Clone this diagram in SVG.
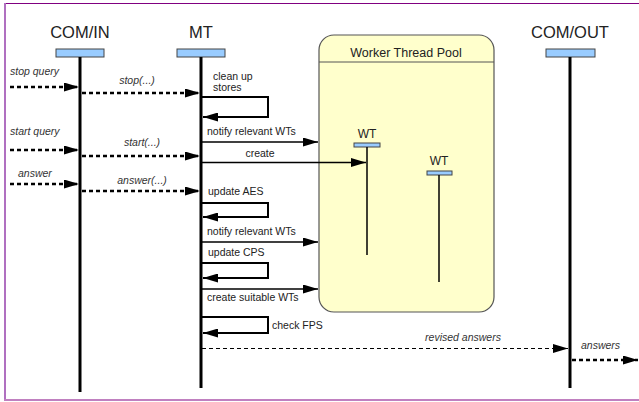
<svg xmlns="http://www.w3.org/2000/svg" width="639" height="402" viewBox="0 0 639 402">
<defs>
<marker id="ah" markerUnits="userSpaceOnUse" markerWidth="15" markerHeight="9" refX="15" refY="4.5" orient="auto">
<path d="M0,0 L15,4.5 L0,9 z" fill="#000"/>
</marker>
<style>
.t{font-family:"Liberation Sans",Arial,sans-serif;fill:#222;}
.title{font-size:16.5px;text-anchor:middle;}
.lbl{font-size:10.5px;}
.it{font-size:10.5px;font-style:italic;fill:#333;}
.box{fill:#99ccff;stroke:#444;stroke-width:1;}
.life{stroke:#000;stroke-width:3;}
.wtl{stroke:#000;stroke-width:1.5;}
.dot{stroke:#000;stroke-width:2.5;stroke-dasharray:4,3;fill:none;}
.dash{stroke:#000;stroke-width:1.2;stroke-dasharray:4,3;fill:none;}
.sol{stroke:#000;stroke-width:1.5;fill:none;}
.loop{stroke:#000;stroke-width:2;fill:none;}
</style>
</defs>
<rect x="0" y="0" width="639" height="402" fill="#fff"/>
<line x1="5" y1="3.5" x2="639" y2="3.5" stroke="#800080" stroke-width="1.2"/>
<line x1="5" y1="3" x2="5" y2="400" stroke="#b070c0" stroke-width="2"/>
<line x1="4" y1="400" x2="639" y2="400" stroke="#c080c0" stroke-width="2"/>

<g id="pool">
<rect x="319" y="35" width="175" height="277" rx="15" fill="#ffffcc" stroke="#555" stroke-width="1.2"/>
<line x1="319" y1="62" x2="494" y2="62" stroke="#555" stroke-width="1"/>
<text class="t" x="406" y="57" font-size="12.5" text-anchor="middle">Worker Thread Pool</text>
</g>

<g id="comin">
<text class="t title" x="80" y="38">COM/IN</text>
<rect class="box" x="56" y="49" width="48" height="8"/>
<line class="life" x1="80" y1="57" x2="80" y2="392"/>
</g>
<g id="mt">
<text class="t title" x="201" y="38">MT</text>
<rect class="box" x="177" y="49" width="48" height="8"/>
<line class="life" x1="201" y1="57" x2="201" y2="388"/>
</g>
<g id="comout">
<text class="t title" x="570" y="38">COM/OUT</text>
<rect class="box" x="546" y="49" width="49" height="8"/>
<line class="life" x1="570" y1="57" x2="570" y2="388"/>
</g>
<g id="wt1">
<text class="t" x="367" y="138" font-size="12" text-anchor="middle">WT</text>
<rect class="box" x="354" y="143" width="26" height="4"/>
<line class="wtl" x1="367" y1="147" x2="367" y2="255"/>
</g>
<g id="wt2">
<text class="t" x="439" y="165" font-size="12" text-anchor="middle">WT</text>
<rect class="box" x="427" y="171" width="25" height="4"/>
<line class="wtl" x1="439" y1="175" x2="439" y2="282"/>
</g>

<g id="connectors">
<line class="dot" x1="10" y1="87" x2="79" y2="87" marker-end="url(#ah)"/>
<line class="dot" x1="82" y1="93" x2="200" y2="93" marker-end="url(#ah)"/>
<path class="loop" d="M202,97 H268 V117 H203" marker-end="url(#ah)"/>
<line class="sol" x1="202" y1="142" x2="318" y2="142" marker-end="url(#ah)"/>
<line class="dot" x1="10" y1="150" x2="79" y2="150" marker-end="url(#ah)"/>
<line class="dot" x1="82" y1="156" x2="200" y2="156" marker-end="url(#ah)"/>
<line class="sol" x1="202" y1="162.5" x2="366" y2="162.5" marker-end="url(#ah)"/>
<line class="dot" x1="10" y1="184" x2="79" y2="184" marker-end="url(#ah)"/>
<line class="dot" x1="82" y1="191" x2="200" y2="191" marker-end="url(#ah)"/>
<path class="loop" d="M202,203 H268 V217 H203" marker-end="url(#ah)"/>
<line class="sol" x1="202" y1="242" x2="318" y2="242" marker-end="url(#ah)"/>
<path class="loop" d="M202,263 H268 V278 H203" marker-end="url(#ah)"/>
<line class="sol" x1="202" y1="289" x2="318" y2="289" marker-end="url(#ah)"/>
<path class="loop" d="M202,317 H268 V333 H203" marker-end="url(#ah)"/>
<line class="dash" x1="202" y1="348.5" x2="568" y2="348.5" marker-end="url(#ah)"/>
<line class="dot" x1="572" y1="360" x2="638" y2="360" marker-end="url(#ah)"/>
</g>

<g id="labels">
<text class="t it" x="10" y="75">stop query</text>
<text class="t it" x="137" y="84" text-anchor="middle">stop(...)</text>
<text class="t lbl" x="213" y="80">clean up</text>
<text class="t lbl" x="213" y="91">stores</text>
<text class="t lbl" x="207" y="135">notify relevant WTs</text>
<text class="t it" x="10" y="135">start query</text>
<text class="t it" x="142" y="146" text-anchor="middle">start(...)</text>
<text class="t lbl" x="260" y="157" text-anchor="middle">create</text>
<text class="t it" x="18" y="177">answer</text>
<text class="t it" x="142" y="184" text-anchor="middle">answer(...)</text>
<text class="t lbl" x="208" y="194.5">update AES</text>
<text class="t lbl" x="207" y="235">notify relevant WTs</text>
<text class="t lbl" x="208" y="256">update CPS</text>
<text class="t lbl" x="207" y="301">create suitable WTs</text>
<text class="t lbl" x="272" y="329">check FPS</text>
<text class="t it" x="463" y="341" text-anchor="middle">revised answers</text>
<text class="t it" x="581" y="349">answers</text>
</g>
</svg>
